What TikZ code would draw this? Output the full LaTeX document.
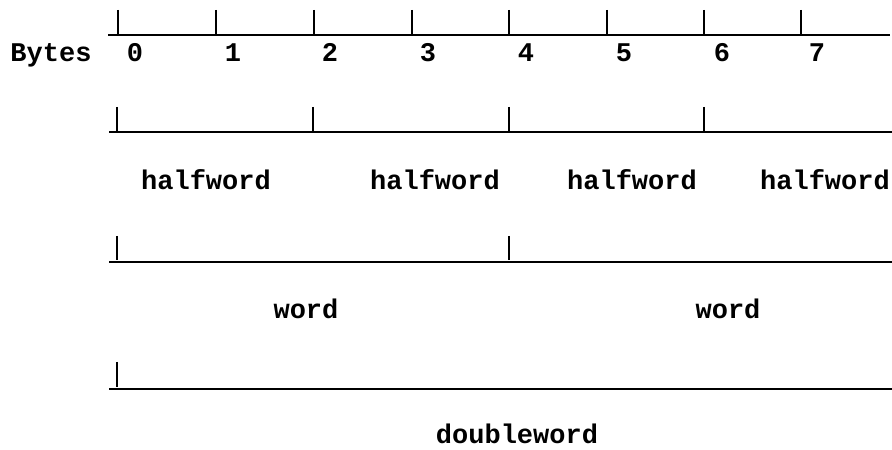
\documentclass[tikz,border=0pt]{standalone}
\usepackage{fontspec}
\setmainfont{Liberation Mono Bold}
\begin{document}
\begin{tikzpicture}[x=1bp,y=-1bp,
  rule/.style={line width=2bp,black},
  tick/.style={line width=2bp,black},
  lbl/.style={inner sep=0pt,anchor=base,font=\fontsize{27bp}{30bp}\selectfont},
]
\useasboundingbox (0,0) rectangle (892,450);
% byte row
\draw[rule] (108,35) -- (890,35);
\foreach \x in {118,216,314,412,509,607,704,801}{
  \draw[tick] (\x,10) -- (\x,34);
}
\node[lbl] (bytes) at (51,62) {Bytes};
\node[lbl] (b0) at (135,62) {0};
\node[lbl] (b1) at (233,62) {1};
\node[lbl] (b2) at (330,62) {2};
\node[lbl] (b3) at (428,62) {3};
\node[lbl] (b4) at (526,62) {4};
\node[lbl] (b5) at (624,62) {5};
\node[lbl] (b6) at (722,62) {6};
\node[lbl] (b7) at (817,62) {7};
% halfword row
\draw[rule] (109,132) -- (892,132);
\foreach \x in {117,313,509,704}{
  \draw[tick] (\x,107) -- (\x,131);
}
\node[lbl] (h1) at (206,190) {halfword};
\node[lbl] (h2) at (435,190) {halfword};
\node[lbl] (h3) at (632,190) {halfword};
\node[lbl] (h4) at (825,190) {halfword};
% word row
\draw[rule] (109,262) -- (892,262);
\foreach \x in {117,509}{
  \draw[tick] (\x,236) -- (\x,260);
}
\node[lbl] (w1) at (306,319) {word};
\node[lbl] (w2) at (728,319) {word};
% doubleword row
\draw[rule] (109,389) -- (892,389);
\draw[tick] (117,362) -- (117,387);
\node[lbl] (dw) at (517,443) {doubleword};
\end{tikzpicture}
\end{document}
